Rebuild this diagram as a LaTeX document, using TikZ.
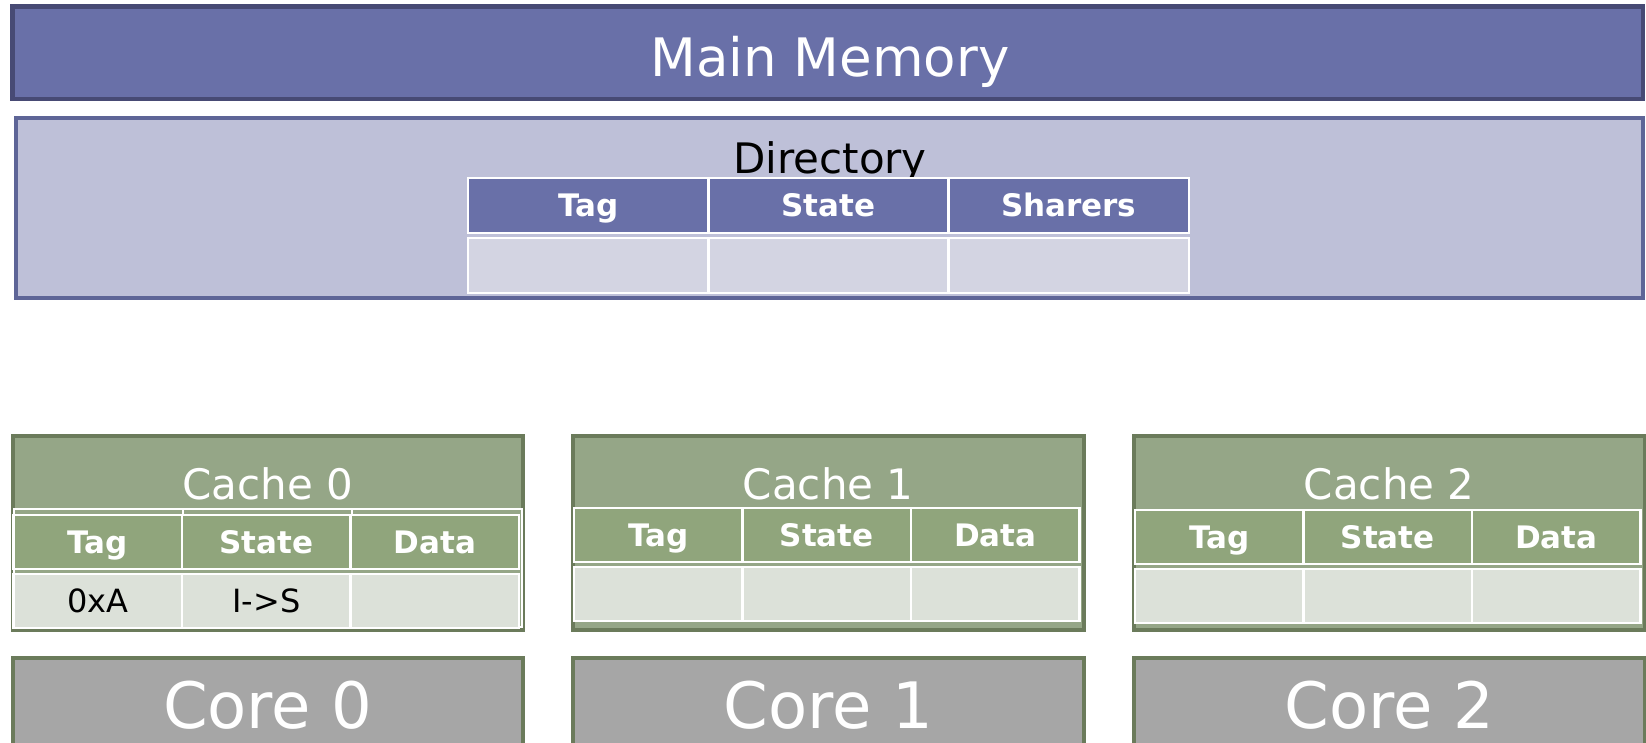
\documentclass[tikz,border=0pt]{standalone}
\usepackage{fontspec}
\setmainfont{DejaVu Sans}
\usetikzlibrary{positioning}

\definecolor{memblue}{HTML}{6970A8}
\definecolor{memdark}{HTML}{474A74}
\definecolor{dirlight}{HTML}{BEC0D8}
\definecolor{dirline}{HTML}{5E6597}
\definecolor{dirpale}{HTML}{D3D4E2}
\definecolor{cachegreen}{HTML}{95A687}
\definecolor{cachedark}{HTML}{6B7B5B}
\definecolor{cachehdr}{HTML}{90A57C}
\definecolor{cachepale}{HTML}{DCE1D9}
\definecolor{coregray}{HTML}{A6A6A6}

\tikzset{
  membox/.style={draw=memdark, fill=memblue, line width=4.5pt, outer sep=0pt},
  dirbox/.style={draw=dirline, fill=dirlight, line width=4pt, outer sep=0pt},
  cachebox/.style={draw=cachedark, fill=cachegreen, line width=4pt, outer sep=0pt,
    minimum width=510.5pt, minimum height=194pt},
  corebox/.style={draw=cachedark, fill=coregray, line width=4pt, outer sep=0pt,
    minimum width=510.5pt, minimum height=96pt},
  cell/.style={draw=white, line width=2.5pt, outer sep=0pt, inner sep=0pt,
    text depth=0pt},
  dhead/.style={cell, fill=memblue, minimum width=240.3pt, minimum height=55pt,
    text=white, text height=22.6pt, font=\fontsize{31}{31}\selectfont\bfseries},
  drow/.style={cell, fill=dirpale, minimum width=240.3pt, minimum height=55pt},
  chead/.style={cell, fill=cachehdr, minimum width=168.5pt, minimum height=54pt,
    text=white, text height=22.6pt, font=\fontsize{31}{31}\selectfont\bfseries},
  crow/.style={cell, fill=cachepale, minimum width=168.5pt, minimum height=54pt,
    text=black, text height=23.3pt, font=\fontsize{32}{32}\selectfont},
  ghost/.style={draw=white, line width=2.5pt},
  bigtext/.style={text=white, anchor=base, inner sep=0pt},
}

\begin{document}
\begin{tikzpicture}[x=1pt,y=-1pt]
\useasboundingbox (0,0) rectangle (1646,742);

\node[membox, minimum width=1630.5pt, minimum height=92.5pt] (mem) at (827.75,52.75) {};
\node[bigtext, font=\fontsize{53}{60}\selectfont] (memname) at (830,76) {Main Memory};

\node[dirbox, minimum width=1627.5pt, minimum height=180pt] (dir) at (829.25,208) {};
\node[bigtext, text=black, font=\fontsize{42}{48}\selectfont] (dirname) at (830,173) {Directory};
\node[dhead] (dtag) at (588.15,205.5) {Tag};
\node[dhead, right=0pt of dtag] (dstate) {State};
\node[dhead, right=0pt of dstate] (dsharers) {Sharers};
\node[drow, below=5pt of dtag] (rdtag) {};
\node[drow, right=0pt of rdtag] (rdstate) {};
\node[drow, right=0pt of rdstate] (rdsharers) {};

\foreach \i/\x/\t/\a/\b in {0/10.5/515/0xA/I->S, 1/571/508//, 2/1132/510//} {
  \node[cachebox] (cache\i) at (\x+257.25,533) {};
  \node[bigtext, font=\fontsize{42}{48}\selectfont] (cname\i) at (\x+257.25,499) {Cache \i};
  \ifnum\i=0
    \draw[ghost] (14,509) rectangle (522,627);
    \draw[ghost] (183,509) -- (183,515) (352,509) -- (352,515);
  \fi
  \node[chead] (ctag\i) at (\x+3+84.25,\t+27) {Tag};
  \node[chead, right=0pt of ctag\i] (cstate\i) {State};
  \node[chead, right=0pt of cstate\i] (cdata\i) {Data};
  \node[crow, below=5pt of ctag\i] (rtag\i) {\a};
  \node[crow, right=0pt of rtag\i] (rstate\i) {\b};
  \node[crow, right=0pt of rstate\i] (rdata\i) {};
  \node[corebox] (core\i) at (\x+257.25,706) {};
  \node[bigtext, font=\fontsize{64}{70}\selectfont] (corename\i) at (\x+257.25,728) {Core \i};
}
\end{tikzpicture}
\end{document}
